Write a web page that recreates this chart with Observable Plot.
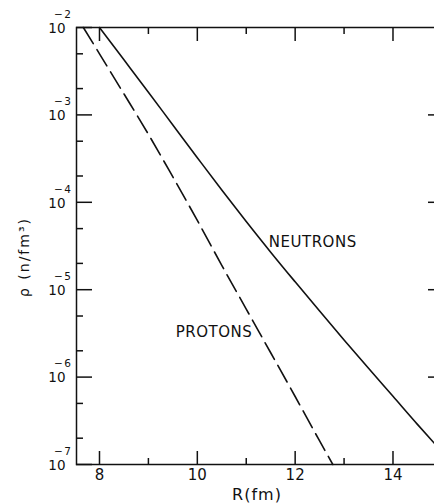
<!DOCTYPE html>
<html>
<head>
<meta charset="utf-8">
<script src="https://cdn.jsdelivr.net/npm/d3@7"></script>
<script src="https://cdn.jsdelivr.net/npm/@observablehq/plot@0.6"></script>
<style>
  html, body { margin: 0; padding: 0; background: #fff; overflow: hidden; }
  svg { display: block; }
</style>
</head>
<body>
<div id="chart"></div>
<script>
// ---- data ----
const neutronR   = [8.0, 8.5, 9.0, 9.5, 10.0, 10.5, 11.0, 11.5, 12.0, 12.5, 13.0, 13.5, 14.0, 14.5, 14.85];
const neutronRho = [1.0e-2, 4.27e-3, 1.82e-3, 7.67e-4, 3.24e-4, 1.38e-4, 6.03e-5, 2.69e-5, 1.23e-5, 5.69e-6, 2.66e-6, 1.26e-6, 6.03e-7, 2.88e-7, 1.74e-7];
const protonR    = [7.67, 8.0, 8.5, 9.0, 9.5, 10.0, 10.5, 11.0, 11.5, 12.0, 12.5, 12.77];
const protonRho  = [1.0e-2, 5.0e-3, 1.74e-3, 6.0e-4, 1.95e-4, 6.2e-5, 1.9e-5, 6.0e-6, 1.9e-6, 6.0e-7, 1.86e-7, 1.0e-7];

const xMajor = [8, 10, 12, 14];
const xMajorLabels = ["8", "10", "12", "14"];
const xMinor = [9, 11, 13];
const yMajor = [1e-2, 1e-3, 1e-4, 1e-5, 1e-6, 1e-7];
const yExponents = ["−2", "−3", "−4", "−5", "−6", "−7"];
const yMinor = [5e-3, 2e-3, 5e-4, 2e-4, 5e-5, 2e-5, 5e-6, 2e-6, 5e-7, 2e-7];

const curveLabels = [
  {x: 12.36, y: 3.5e-5, text: "NEUTRONS"},
  {x: 10.34, y: 3.27e-6, text: "PROTONS"}
];
const xTitle = "R(fm)";
const yTitle = "ρ (n/fm³)";

// ---- layout ----
const W = 434, H = 504, mL = 76, mT = 27, mR = -3, mB = 40;
const fh = H - mT - mB;   // frame height
const fw = W - mL - mR;   // frame width
const ink = "#111";
const font = "DejaVu Sans, sans-serif";

const chart = Plot.plot({
  width: W, height: H,
  marginLeft: mL, marginTop: mT, marginRight: mR, marginBottom: mB,
  style: {fontFamily: font, background: "#fff", overflow: "visible"},
  x: {domain: [7.53, 14.91], axis: null},
  y: {type: "log", domain: [1e-7, 1e-2], axis: null},
  marks: [
    Plot.frame({stroke: ink, strokeWidth: 1.5}),
    // bottom ticks (inward)
    Plot.ruleX(xMajor, {x: d => d, insetTop: fh - 13, stroke: ink, strokeWidth: 1.5}),
    Plot.ruleX(xMinor, {x: d => d, insetTop: fh - 6, stroke: ink, strokeWidth: 1.5}),
    // top ticks (inward)
    Plot.ruleX(xMajor, {x: d => d, insetBottom: fh - 14, stroke: ink, strokeWidth: 1.5}),
    Plot.ruleX(xMinor, {x: d => d, insetBottom: fh - 7, stroke: ink, strokeWidth: 1.5}),
    // left ticks (inward)
    Plot.ruleY(yMajor, {y: d => d, insetRight: fw - 16, stroke: ink, strokeWidth: 1.5}),
    Plot.ruleY(yMinor, {y: d => d, insetRight: fw - 7, stroke: ink, strokeWidth: 1.5}),
    // right ticks (inward, majors only)
    Plot.ruleY(yMajor.slice(1, -1), {y: d => d, insetLeft: fw - 9, stroke: ink, strokeWidth: 1.5}),
    // x tick labels
    Plot.text(xMajor, {x: d => d, frameAnchor: "bottom", text: xMajorLabels, lineAnchor: "top", dy: 5, fontSize: 15, fill: ink}),
    // y tick labels: "10" with raised exponent
    Plot.text(yMajor, {y: d => d, frameAnchor: "left", text: () => "10", textAnchor: "end", dx: -11, dy: 1, fontSize: 13.5, fill: ink}),
    Plot.text(yMajor, {y: d => d, frameAnchor: "left", text: yExponents, textAnchor: "end", dx: -4, dy: -13, fontSize: 10.5, fill: ink}),
    // axis titles
    Plot.text([xTitle], {frameAnchor: "bottom", textAnchor: "middle", dy: 35, fontSize: 16, fill: ink}),
    Plot.text([yTitle], {frameAnchor: "left", textAnchor: "middle", lineAnchor: "middle", dx: -52, dy: 11, rotate: -90, fontSize: 14, fill: ink}),
    // curves
    Plot.line(neutronR, {x: neutronR, y: neutronRho, stroke: ink, strokeWidth: 1.6, curve: "monotone-x"}),
    Plot.line(protonR, {x: protonR, y: protonRho, stroke: ink, strokeWidth: 1.6, strokeDasharray: "19,7", curve: "monotone-x"}),
    // curve labels
    Plot.text(curveLabels, {x: "x", y: "y", text: "text", fontSize: 15, fill: ink})
  ]
});
// letter spacing for the hand-lettered titles
const spacing = {[yTitle]: "2px", [xTitle]: "1px", "NEUTRONS": "0.5px", "PROTONS": "0.5px"};
d3.select(chart).selectAll("text").each(function () {
  const s = spacing[this.textContent];
  if (s) this.setAttribute("letter-spacing", s);
  if (yExponents.includes(this.textContent)) this.setAttribute("letter-spacing", "1.5px");
});
document.getElementById("chart").appendChild(chart);
</script>
</body>
</html>
